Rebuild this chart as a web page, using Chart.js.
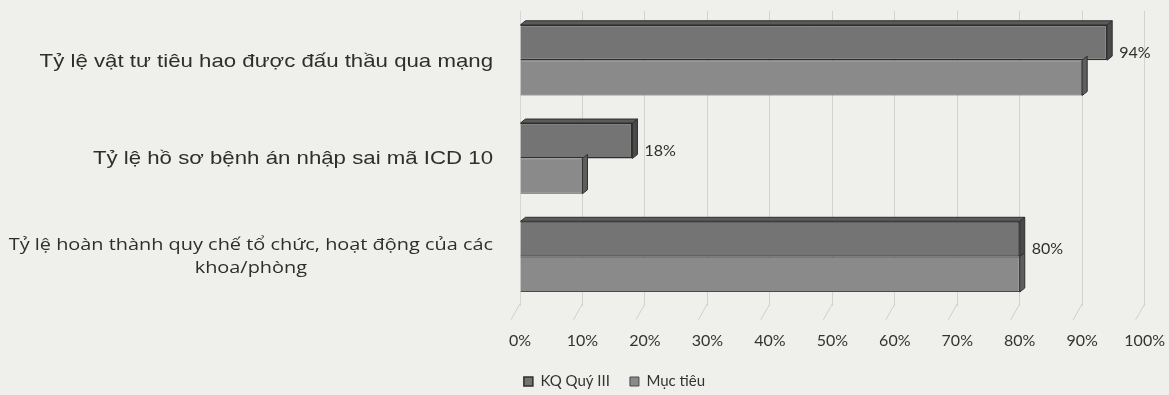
<!DOCTYPE html>
<html>
<head>
<meta charset="utf-8">
<script src="https://cdn.jsdelivr.net/npm/chart.js@4"></script>
<style>
  html, body { margin: 0; padding: 0; background: #efefec; }
  #wrap { width: 1169px; height: 395px; }
</style>
</head>
<body>
<div id="wrap"><canvas id="chart"></canvas></div>
<script>
// data
const categories = [
  ['Tỷ lệ vật tư tiêu hao được đấu thầu qua mạng'],
  ['Tỷ lệ hồ sơ bệnh án nhập sai mã ICD 10'],
  ['Tỷ lệ hoàn thành quy chế tổ chức, hoạt động của các', 'khoa/phòng']
];
const kqQuyIII = [94, 18, 80];
const mucTieu = [90, 10, 80];
const seriesNames = ['KQ Quý III', 'Mục tiêu'];

// category names drawn by hand so the 2-line one can be centred
// (the scan is a bit stretched sideways, hence the x scale)
const categoryLabels = {
  id: 'categoryLabels',
  afterDraw(chart) {
    const ctx = chart.ctx;
    const ys = chart.scales.y;
    const sx = 1.17;
    const right = chart.chartArea.left - 27;
    ctx.save();
    ctx.fillStyle = '#2e2e2e';
    ctx.textBaseline = 'middle';
    ctx.textAlign = 'left';
    categories.forEach((lines, i) => {
      ctx.font = i === 2 ? '17px "Open Sans"' : '19px "Liberation Sans"';
      const cy = ys.getPixelForTick(i) + (i === 0 ? 2 : 0);
      const widest = Math.max(...lines.map(l => ctx.measureText(l).width)) * sx;
      lines.forEach((line, j) => {
        const w = ctx.measureText(line).width * sx;
        const ly = cy + (j - (lines.length - 1) / 2) * 23;
        const lx = right - widest + (widest - w) / 2;
        ctx.save();
        ctx.translate(lx, ly);
        ctx.scale(sx, 1);
        ctx.fillText(line, 0, 0);
        ctx.restore();
      });
    });
    ctx.restore();
  }
};

// little 3D look: top face + end cap on each bar, value labels on KQ bars
const bars3d = {
  id: 'bars3d',
  afterDatasetsDraw(chart) {
    const ctx = chart.ctx;
    const dx = 5, dy = 4;
    ctx.save();
    chart.data.datasets.forEach((ds, di) => {
      chart.getDatasetMeta(di).data.forEach((el, i) => {
        const p = el.getProps(['x', 'y', 'base', 'height'], true);
        const top = p.y - p.height / 2, bot = p.y + p.height / 2;
        // end cap
        ctx.fillStyle = di === 0 ? '#4a4a4a' : '#5e5e5e';
        ctx.beginPath();
        ctx.moveTo(p.x, top);
        ctx.lineTo(p.x + dx, top - dy);
        ctx.lineTo(p.x + dx, bot - dy);
        ctx.lineTo(p.x, bot);
        ctx.closePath();
        ctx.fill();
        ctx.strokeStyle = '#2e2e2e';
        ctx.lineWidth = 1;
        ctx.stroke();
        if (di === 0) {
          ctx.fillStyle = '#5a5a5a';
          ctx.beginPath();
          ctx.moveTo(p.base, top);
          ctx.lineTo(p.base + dx, top - dy);
          ctx.lineTo(p.x + dx, top - dy);
          ctx.lineTo(p.x, top);
          ctx.closePath();
          ctx.fill();
          ctx.stroke();
        }
      });
    });
    // value labels
    ctx.fillStyle = '#2f2f2f';
    ctx.font = '16px Lato';
    ctx.textBaseline = 'middle';
    ctx.textAlign = 'left';
    chart.getDatasetMeta(0).data.forEach((el, i) => {
      ctx.fillText(kqQuyIII[i] + '%', el.x + 12, el.y + 10);
    });
    // slanted floor marks
    const xs = chart.scales.x;
    const b = chart.chartArea.bottom;
    ctx.strokeStyle = '#cfcfcf';
    xs.ticks.forEach(t => {
      const x = xs.getPixelForValue(t.value);
      ctx.beginPath();
      ctx.moveTo(x, b - 2);
      ctx.lineTo(x - 9, b + 14);
      ctx.stroke();
    });
    ctx.restore();
  }
};

new Chart(document.getElementById('chart'), {
  type: 'bar',
  data: {
    labels: categories,
    datasets: [
      {
        label: seriesNames[0],
        data: kqQuyIII,
        backgroundColor: '#747474',
        borderColor: '#2e2e2e',
        borderWidth: 1.5,
        borderSkipped: 'left'
      },
      {
        label: seriesNames[1],
        data: mucTieu,
        backgroundColor: '#8a8a8a',
        borderColor: '#4a4a4a',
        borderWidth: 1,
        borderSkipped: 'left'
      }
    ]
  },
  options: {
    indexAxis: 'y',
    responsive: true,
    maintainAspectRatio: false,
    animation: false,
    layout: { padding: { left: 62, right: 2, top: 11, bottom: -4 } },
    datasets: { bar: { categoryPercentage: 0.72, barPercentage: 1.0 } },
    scales: {
      x: {
        min: 0,
        max: 100,
        grid: {
          color: '#d2d2d2',
          drawTicks: true,
          tickLength: 21,
          tickColor: 'rgba(0,0,0,0)'
        },
        border: { display: false },
        ticks: {
          stepSize: 10,
          padding: 4,
          color: '#333333',
          font: { family: 'Lato', size: 16 },
          callback: v => v + '%'
        }
      },
      y: {
        grid: { display: false },
        border: { color: '#d6d6d6' },
        ticks: { display: false },
        afterFit: s => { s.width = 458; }
      }
    },
    plugins: {
      legend: {
        position: 'bottom',
        labels: {
          boxWidth: 9,
          boxHeight: 9,
          padding: 20,
          color: '#333333',
          font: { family: 'Lato', size: 15 }
        }
      },
      tooltip: { enabled: false }
    }
  },
  plugins: [categoryLabels, bars3d]
});
</script>
</body>
</html>
